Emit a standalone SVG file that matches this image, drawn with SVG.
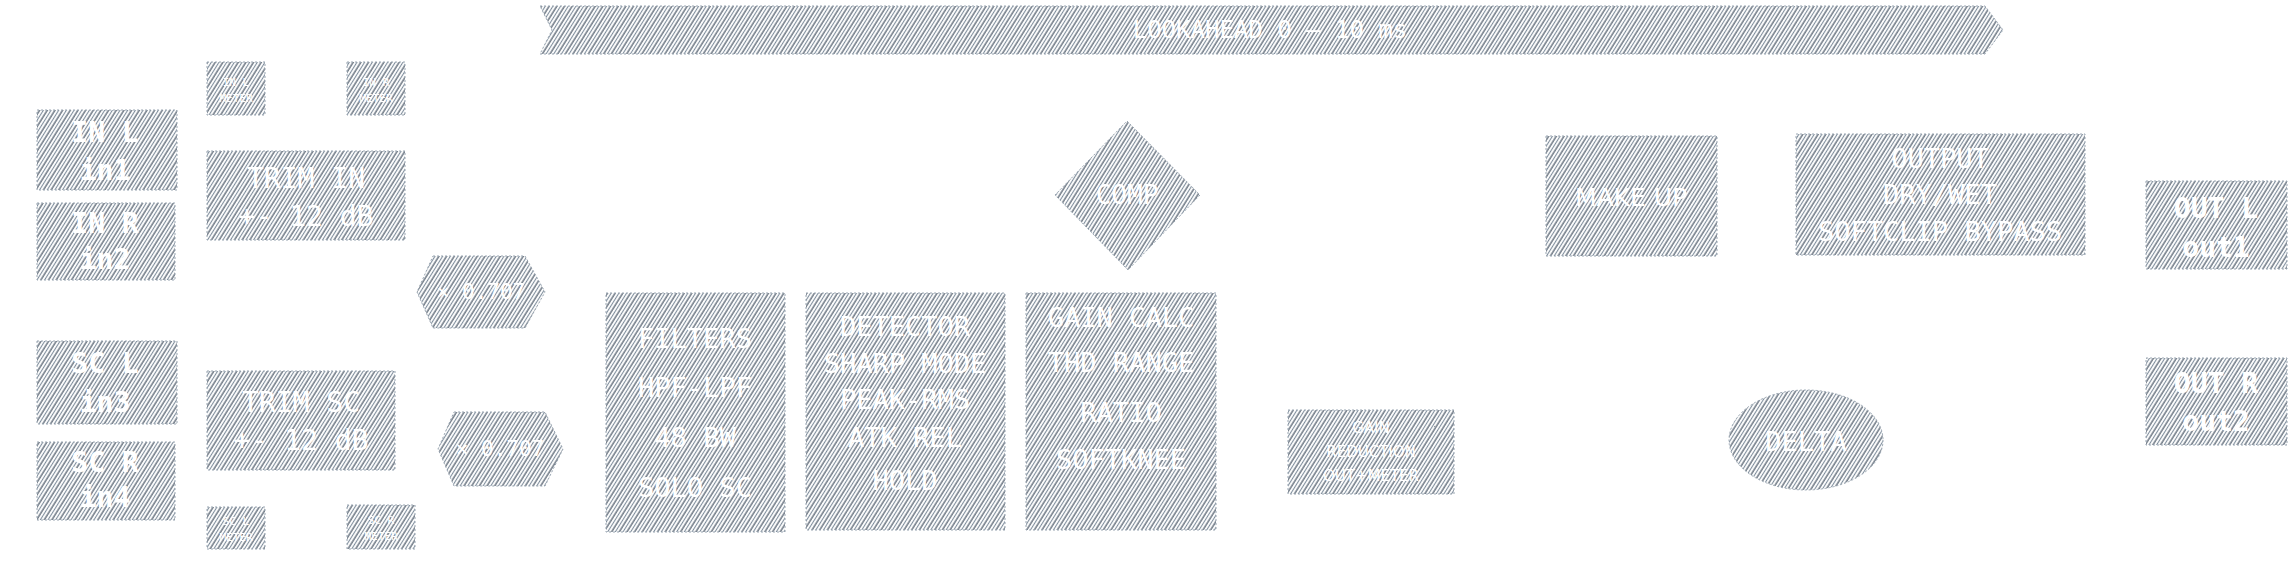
<svg xmlns="http://www.w3.org/2000/svg" width="2289" height="587" viewBox="0 0 2289 587">
<defs>
<pattern id="hatch" patternUnits="userSpaceOnUse" width="6.5" height="11" patternTransform="rotate(32)">
<rect width="6.5" height="11" fill="#ffffff"/>
<line x1="1" y1="0" x2="1" y2="11" stroke="#223244" stroke-width="1"/>
<line x1="4.2" y1="0" x2="4.2" y2="11" stroke="#7f8d9c" stroke-width="1.1"/>
</pattern>
<style>
.n{fill:url(#hatch);stroke:#9aa6b2;stroke-width:1;stroke-dasharray:2 2}
.t{fill:#ffffff;font-family:"DejaVu Sans Mono","Liberation Mono",monospace;text-anchor:middle;dominant-baseline:central}
.b{font-weight:bold}
.s{font-family:"DejaVu Sans","Liberation Sans",sans-serif}
</style>
</defs>
<rect width="2289" height="587" fill="#ffffff"/>
<g id="connectors"></g>
<g id="lookahead"><path class="n" d="M540,6 L1985,6 L2003,30 L1985,54 L540,54 L552,30 Z"/><text class="t" x="1270" y="30" font-size="24">LOOKAHEAD 0 – 10 ms</text></g>
<g id="in1"><rect class="n" x="37" y="110" width="140" height="80"/><text class="t b" x="105" y="132" font-size="28">IN L</text><text class="t b" x="105" y="170" font-size="28">in1</text></g>
<g id="in2"><rect class="n" x="37" y="203" width="138" height="77"/><text class="t b" x="105" y="223" font-size="28">IN R</text><text class="t b" x="105" y="259" font-size="28">in2</text></g>
<g id="in3"><rect class="n" x="37" y="341" width="140" height="83"/><text class="t b" x="105" y="363" font-size="28">SC L</text><text class="t b" x="105" y="402" font-size="28">in3</text></g>
<g id="in4"><rect class="n" x="37" y="442" width="138" height="78"/><text class="t b" x="105" y="462" font-size="28">SC R</text><text class="t b" x="105" y="497" font-size="28">in4</text></g>
<g id="meter_in_l"><rect class="n" x="207" y="62" width="58" height="53"/><text class="t" x="236" y="82" font-size="11">IN L</text><text class="t" x="236" y="98" font-size="11">METER</text></g>
<g id="meter_in_r"><rect class="n" x="347" y="62" width="58" height="53"/><text class="t" x="376" y="82" font-size="11">IN R</text><text class="t" x="376" y="98" font-size="11">METER</text></g>
<g id="trim_in"><rect class="n" x="207" y="151" width="198" height="89"/><text class="t" x="306" y="178" font-size="28">TRIM IN</text><text class="t" x="306" y="216" font-size="28">+- 12 dB</text></g>
<g id="trim_sc"><rect class="n" x="207" y="371" width="188" height="99"/><text class="t" x="301" y="402" font-size="28">TRIM SC</text><text class="t" x="301" y="440" font-size="28">+- 12 dB</text></g>
<g id="meter_sc_l"><rect class="n" x="207" y="507" width="58" height="42"/><text class="t" x="236" y="521" font-size="11">SC L</text><text class="t" x="236" y="537" font-size="11">METER</text></g>
<g id="meter_sc_r"><rect class="n" x="347" y="505" width="68" height="44"/><text class="t" x="381" y="520" font-size="11">SC R</text><text class="t" x="381" y="536" font-size="11">METER</text></g>
<g id="mono_in"><path class="n" d="M433,256 L525,256 L545,292 L525,328 L433,328 L417,292 Z"/><text class="t" x="481" y="292" font-size="21">× 0.707</text></g>
<g id="mono_sc"><path class="n" d="M454,412 L545,412 L563,449 L545,486 L454,486 L438,449 Z"/><text class="t" x="500" y="449" font-size="21">× 0.707</text></g>
<g id="filters"><rect class="n" x="606" y="293" width="179" height="239"/><text class="t" x="695" y="338" font-size="27">FILTERS</text><text class="t" x="695" y="387" font-size="27">HPF-LPF</text><text class="t" x="695" y="437" font-size="27">48 BW</text><text class="t" x="695" y="487" font-size="27">SOLO SC</text></g>
<g id="detector"><rect class="n" x="806" y="293" width="199" height="237"/><text class="t" x="905" y="326" font-size="27">DETECTOR</text><text class="t" x="905" y="363" font-size="27">SHARP MODE</text><text class="t" x="905" y="399" font-size="27">PEAK-RMS</text><text class="t" x="905" y="437" font-size="27">ATK REL</text><text class="t" x="905" y="480" font-size="27">HOLD</text></g>
<g id="gain_calc"><rect class="n" x="1026" y="293" width="190" height="237"/><text class="t" x="1121" y="317" font-size="27">GAIN CALC</text><text class="t" x="1121" y="362" font-size="27">THD RANGE</text><text class="t" x="1121" y="412" font-size="27">RATIO</text><text class="t" x="1121" y="459" font-size="27">SOFTKNEE</text></g>
<g id="comp"><path class="n" d="M1127,121 L1200,195 L1128,270 L1055,195 Z"/><text class="t" x="1127" y="195" font-size="26">COMP</text></g>
<g id="gr_meter"><rect class="n" x="1288" y="410" width="166" height="84"/><text class="t s" x="1371" y="428" font-size="15">GAIN</text><text class="t s" x="1371" y="452" font-size="15">REDUCTION</text><text class="t s" x="1371" y="476" font-size="15">OUT+METER</text></g>
<g id="makeup"><rect class="n" x="1546" y="136" width="171" height="120"/><text class="t s" x="1631" y="197" font-size="25">MAKE UP</text></g>
<g id="output"><rect class="n" x="1796" y="134" width="289" height="121"/><text class="t" x="1940" y="158" font-size="27">OUTPUT</text><text class="t" x="1940" y="194" font-size="27">DRY/WET</text><text class="t" x="1940" y="231" font-size="27">SOFTCLIP BYPASS</text></g>
<g id="delta"><ellipse class="n" cx="1806" cy="440" rx="77" ry="50"/><text class="t" x="1806" y="441" font-size="27">DELTA</text></g>
<g id="out1"><rect class="n" x="2146" y="181" width="141" height="88"/><text class="t b" x="2216" y="208" font-size="28">OUT L</text><text class="t b" x="2216" y="247" font-size="28">out1</text></g>
<g id="out2"><rect class="n" x="2146" y="358" width="141" height="87"/><text class="t b" x="2216" y="383" font-size="28">OUT R</text><text class="t b" x="2216" y="421" font-size="28">out2</text></g>
</svg>
